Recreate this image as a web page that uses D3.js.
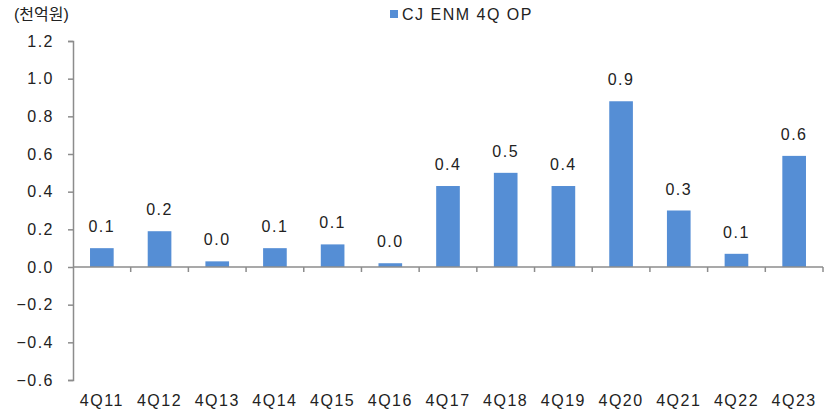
<!DOCTYPE html>
<html>
<head>
<meta charset="utf-8">
<script src="https://cdn.jsdelivr.net/npm/d3@7"></script>
<style>
  body { margin: 0; background: #fff; }
  svg text { font-family: "Liberation Sans", Arial, "Noto Sans CJK KR", sans-serif; fill: #222; }
  svg text.wide { letter-spacing: 1.5px; }
</style>
</head>
<body>
<div class="graph"></div>
<script>
// chart data
var quarters = ["4Q11","4Q12","4Q13","4Q14","4Q15","4Q16","4Q17","4Q18","4Q19","4Q20","4Q21","4Q22","4Q23"];
var opValues = [0.10, 0.19, 0.03, 0.10, 0.12, 0.02, 0.43, 0.50, 0.43, 0.88, 0.30, 0.07, 0.59];
var yTicks = [-0.6, -0.4, -0.2, 0.0, 0.2, 0.4, 0.6, 0.8, 1.0, 1.2];
var seriesName = "CJ ENM 4Q OP";
var unitLabel = "(천억원)";

var drawChart = function(){
	var width = 826, height = 414,
		left = 73, right = 823, top = 41, bottom = 380,
		barColor = "#558ed5",
		axisColor = "#8c8c8c";

	var svg = d3.select(".graph").append("svg")
		.attr("width", width)
		.attr("height", height);

	//scales
	var xScale = d3.scaleBand()
		.domain(quarters)
		.range([left, right])
		.paddingInner(0.59)
		.paddingOuter(0.295);

	var bandScale = d3.scaleBand()
		.domain(quarters)
		.range([left, right]);

	var yScale = d3.scaleLinear()
		.domain([-0.6, 1.2])
		.range([bottom, top]);

	var fmt = function(v){ return v < 0 ? "\u2212" + d3.format(".1f")(-v) : d3.format(".1f")(v); };

	//y axis
	var yAxis = d3.axisLeft(yScale)
		.tickValues(yTicks)
		.tickSize(5)
		.tickPadding(14)
		.tickFormat(fmt);

	var gy = svg.append("g")
		.attr("transform", "translate(" + left + ",0)")
		.call(yAxis);
	gy.select(".domain").attr("stroke", axisColor).attr("stroke-width", 1.5);
	gy.selectAll(".tick line").attr("stroke", axisColor).attr("stroke-width", 1.5);
	gy.selectAll(".tick text").attr("class", "wide").style("font-size", "16px").attr("fill", "#222");

	//bars
	svg.selectAll("rect.bar")
		.data(opValues)
		.enter().append("rect")
		.attr("class", "bar")
		.attr("x", function(d, i){ return xScale(quarters[i]); })
		.attr("width", xScale.bandwidth())
		.attr("y", function(d){ return yScale(Math.max(0, d)); })
		.attr("height", function(d){ return Math.abs(yScale(d) - yScale(0)); })
		.attr("fill", barColor);

	//value labels
	svg.selectAll("text.val")
		.data(opValues)
		.enter().append("text")
		.attr("class", "val wide")
		.attr("x", function(d, i){ return xScale(quarters[i]) + xScale.bandwidth() / 2; })
		.attr("y", function(d){ return yScale(d) - 16; })
		.attr("text-anchor", "middle")
		.style("font-size", "16px")
		.text(function(d){ return d3.format(".1f")(d); });

	//x axis along zero, ticks at category boundaries
	var zeroY = yScale(0);
	svg.append("line")
		.attr("x1", left).attr("x2", right)
		.attr("y1", zeroY).attr("y2", zeroY)
		.attr("stroke", axisColor).attr("stroke-width", 1.5);

	var bounds = quarters.map(function(q){ return bandScale(q) + bandScale.bandwidth(); });
	svg.selectAll("line.xtick")
		.data(bounds)
		.enter().append("line")
		.attr("class", "xtick")
		.attr("x1", function(d){ return d; }).attr("x2", function(d){ return d; })
		.attr("y1", zeroY).attr("y2", zeroY + 5)
		.attr("stroke", axisColor).attr("stroke-width", 1.5);

	//category labels at the bottom
	svg.selectAll("text.cat")
		.data(quarters)
		.enter().append("text")
		.attr("class", "cat wide")
		.attr("x", function(d){ return bandScale(d) + bandScale.bandwidth() / 2; })
		.attr("y", 406)
		.attr("text-anchor", "middle")
		.style("font-size", "16px")
		.text(function(d){ return d; });

	//unit label
	svg.append("text")
		.attr("x", 14).attr("y", 20)
		.style("font-size", "16px")
		.text(unitLabel);

	//legend
	svg.append("rect")
		.attr("x", 390).attr("y", 10)
		.attr("width", 8).attr("height", 8)
		.attr("fill", barColor);
	svg.append("text")
		.attr("class", "wide")
		.attr("x", 402).attr("y", 20)
		.style("font-size", "16px")
		.text(seriesName);
};

drawChart();
</script>
</body>
</html>
